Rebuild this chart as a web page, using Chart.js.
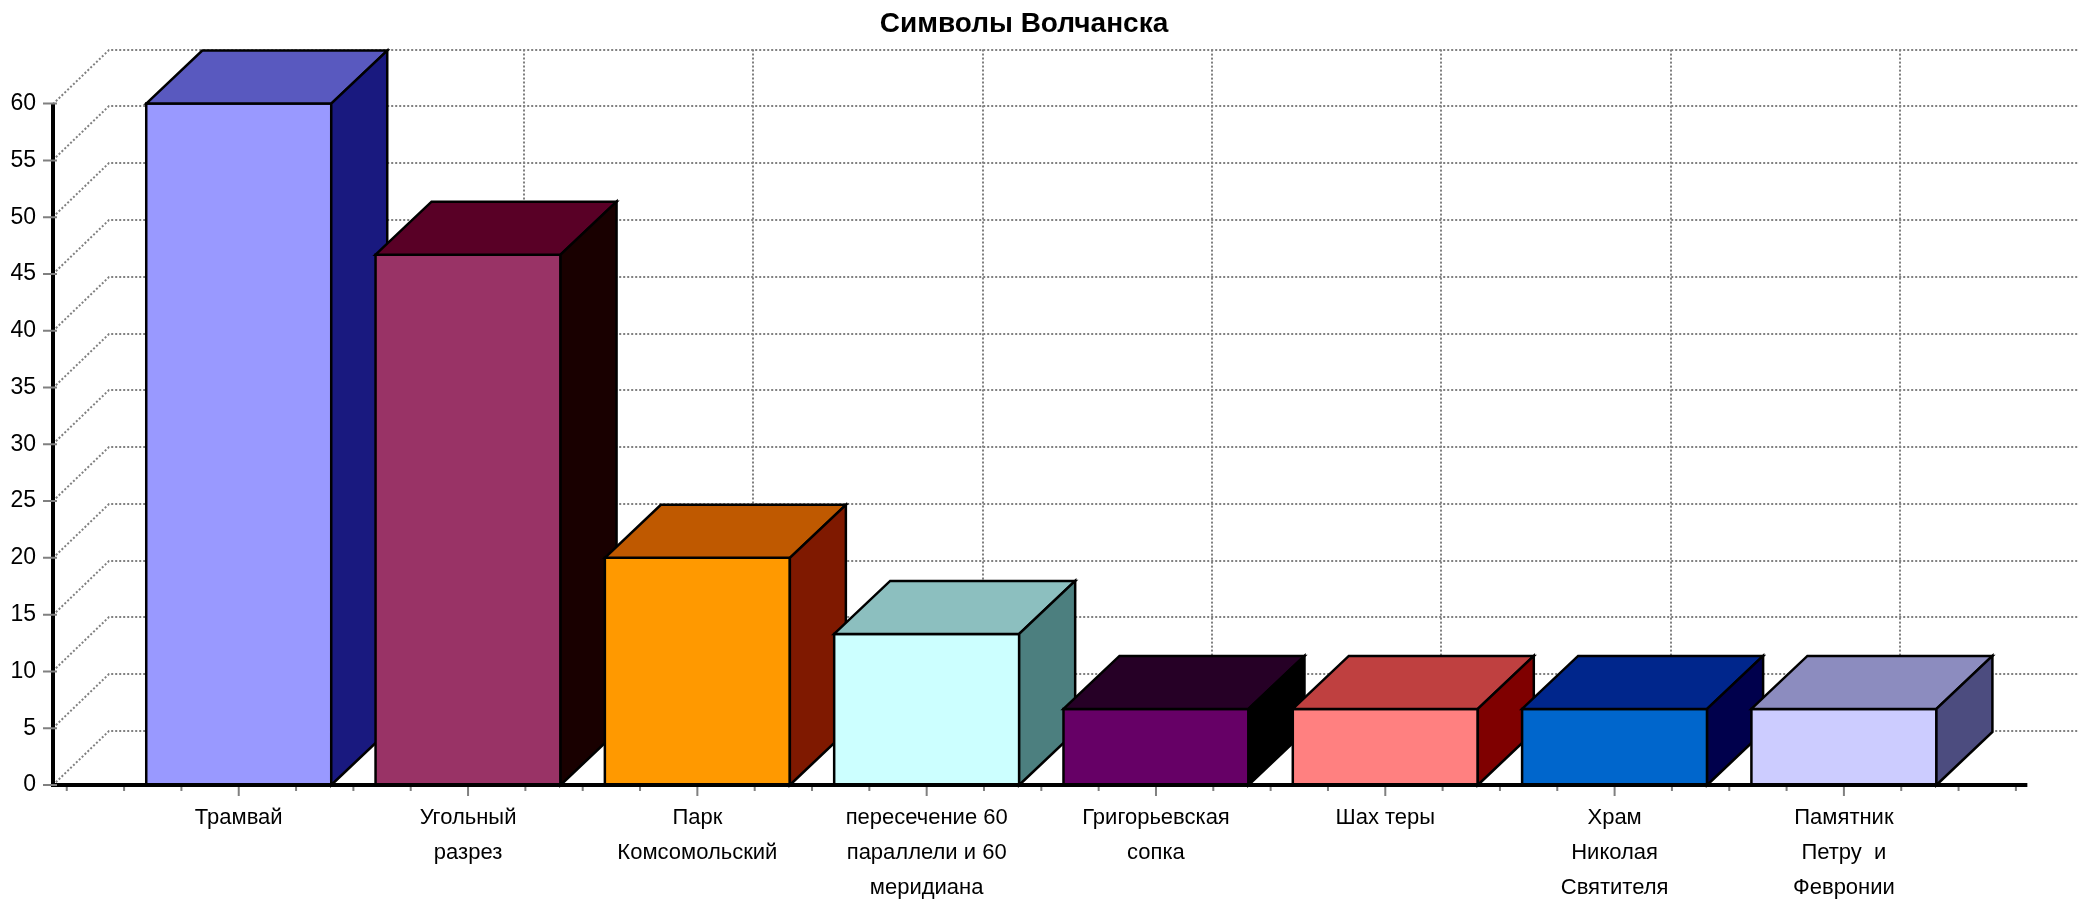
<!DOCTYPE html>
<html>
<head>
<meta charset="utf-8">
<title>Символы Волчанска</title>
<script src="https://cdn.jsdelivr.net/npm/chart.js@4.4.1/dist/chart.umd.min.js"></script>
<style>
  html, body { margin: 0; padding: 0; background: #fff; }
  #wrap { width: 2079px; height: 899px; }
</style>
</head>
<body>
<div id="wrap"><canvas id="chart"></canvas></div>
<script>
// data (values look like shares of 15 answers, in %)
const categories = [
    ['Трамвай'],
    ['Угольный', 'разрез'],
    ['Парк', 'Комсомольский'],
    ['пересечение 60', 'параллели и 60', 'меридиана'],
    ['Григорьевская', 'сопка'],
    ['Шах теры'],
    ['Храм', 'Николая', 'Святителя'],
    ['Памятник', 'Петру  и', 'Февронии']
];
const values = [60, 46.7, 20, 13.3, 6.7, 6.7, 6.7, 6.7];
const yTicks = [0, 5, 10, 15, 20, 25, 30, 35, 40, 45, 50, 55, 60];
const frontColors = ['#9999FF', '#993366', '#FF9900', '#CCFFFF', '#660066', '#FF8080', '#0066CC', '#CCCCFF'];

// x axis range in category units (floor line stops a bit before the right end)
const X_MIN = -0.81;
const X_MAX = 7.89;
const FLOOR_END = 7.8;

// 3d look
const DEPTH_X = 56;
const DEPTH_Y = -54;
const BAR_DEPTH_Y = -53;
const GRID_COLOR = '#808080';

// x tick marks every quarter of a category, major ones on the categories
const xTickValues = [];
for (let i = -3; i <= categories.length * 4 - 1; i++) xTickValues.push(i / 4);

function shade(hex, amt) {
    const n = parseInt(hex.slice(1), 16);
    const c = [n >> 16, (n >> 8) & 255, n & 255].map(v => Math.max(0, Math.min(255, v + amt)));
    return 'rgb(' + c.join(',') + ')';
}

function poly(ctx, pts, fill) {
    ctx.beginPath();
    ctx.moveTo(pts[0][0], pts[0][1]);
    for (let i = 1; i < pts.length; i++) ctx.lineTo(pts[i][0], pts[i][1]);
    ctx.closePath();
    ctx.fillStyle = fill;
    ctx.fill();
    ctx.stroke();
}

const depthPlugin = {
    id: 'depth',
    beforeDatasetsDraw(chart) {
        const { ctx, chartArea, scales: { x, y } } = chart;
        const left = chartArea.left;
        ctx.save();
        ctx.strokeStyle = GRID_COLOR;
        ctx.lineWidth = 2;
        ctx.setLineDash([2, 2]);
        // side wall + back wall lines
        yTicks.forEach(v => {
            const py = Math.round(y.getPixelForValue(v));
            ctx.beginPath();
            ctx.moveTo(left, py);
            ctx.lineTo(left + DEPTH_X, py + DEPTH_Y);
            ctx.lineTo(chart.width, py + DEPTH_Y);
            ctx.stroke();
        });
        const top = y.getPixelForValue(yTicks[yTicks.length - 1]) + DEPTH_Y;
        const floor = y.getPixelForValue(0) + DEPTH_Y;
        categories.forEach((c, i) => {
            const px = Math.round(x.getPixelForValue(i) + DEPTH_X);
            ctx.beginPath();
            ctx.moveTo(px, top);
            ctx.lineTo(px, floor);
            ctx.stroke();
        });
        ctx.restore();
    },
    afterDatasetsDraw(chart) {
        const { ctx, chartArea, scales: { x, y } } = chart;
        const meta = chart.getDatasetMeta(0);
        ctx.save();
        ctx.strokeStyle = '#000';
        ctx.lineWidth = 2.5;
        ctx.lineJoin = 'miter';
        meta.data.forEach((bar, i) => {
            const p = bar.getProps(['x', 'y', 'base', 'width'], true);
            const l = p.x - p.width / 2;
            const r = p.x + p.width / 2;
            const col = frontColors[i];
            poly(ctx, [[l, p.y], [r, p.y], [r, p.base], [l, p.base]], col);
            poly(ctx, [[l, p.y], [l + DEPTH_X, p.y + BAR_DEPTH_Y], [r + DEPTH_X, p.y + BAR_DEPTH_Y], [r, p.y]], shade(col, -64));
            poly(ctx, [[r, p.y], [r + DEPTH_X, p.y + BAR_DEPTH_Y], [r + DEPTH_X, p.base + BAR_DEPTH_Y], [r, p.base]], shade(col, -128));
        });

        // axis lines
        const y0 = y.getPixelForValue(0);
        const yTop = y.getPixelForValue(yTicks[yTicks.length - 1]);
        const ax = chartArea.left;
        ctx.lineWidth = 4;
        ctx.beginPath();
        ctx.moveTo(ax, yTop);
        ctx.lineTo(ax, y0 + 2);
        ctx.moveTo(ax - 2, y0);
        ctx.lineTo(x.getPixelForValue(FLOOR_END), y0);
        ctx.stroke();

        // tick marks
        ctx.strokeStyle = GRID_COLOR;
        ctx.lineWidth = 2;
        ctx.beginPath();
        yTicks.forEach(v => {
            const py = y.getPixelForValue(v);
            ctx.moveTo(ax - 10, py);
            ctx.lineTo(ax + 4, py);
        });
        xTickValues.forEach(v => {
            const px = x.getPixelForValue(v);
            const len = Number.isInteger(v) ? 11 : 6;
            ctx.moveTo(px, y0 + 2);
            ctx.lineTo(px, y0 + len);
        });
        ctx.stroke();
        ctx.restore();
    }
};

const ctx = document.getElementById('chart').getContext('2d');
new Chart(ctx, {
    type: 'bar',
    data: {
        datasets: [{
            data: values.map((v, i) => ({ x: i, y: v })),
            backgroundColor: 'rgba(0,0,0,0)',
            borderWidth: 0,
            barThickness: 185
        }]
    },
    options: {
        responsive: true,
        maintainAspectRatio: false,
        animation: false,
        layout: { padding: { left: 0, right: 31, top: 0, bottom: 0 } },
        plugins: {
            legend: { display: false },
            tooltip: { enabled: false },
            title: {
                display: true,
                text: 'Символы Волчанска',
                color: '#000',
                font: { family: 'Liberation Sans, Arial, sans-serif', size: 28, weight: 'bold' },
                padding: { top: 7, bottom: 63 }
            }
        },
        scales: {
            x: {
                type: 'linear',
                offset: false,
                min: X_MIN,
                max: X_MAX,
                afterBuildTicks: axis => { axis.ticks = xTickValues.map(v => ({ value: v })); },
                afterFit: axis => { axis.height = 114; },
                grid: { display: false, drawTicks: false, offset: false },
                border: { display: false },
                ticks: {
                    autoSkip: false,
                    maxRotation: 0,
                    minRotation: 0,
                    padding: 15,
                    color: '#000',
                    font: { family: 'Liberation Sans, Arial, sans-serif', size: 22, lineHeight: 1.6 },
                    callback: v => Number.isInteger(v) ? categories[v] : ''
                }
            },
            y: {
                min: 0,
                max: 60,
                afterBuildTicks: axis => { axis.ticks = yTicks.map(v => ({ value: v })); },
                afterFit: axis => { axis.width = 53; },
                grid: { display: false, drawTicks: true, tickLength: 9 },
                border: { display: false },
                ticks: {
                    padding: 8,
                    color: '#000',
                    font: { family: 'Liberation Sans, Arial, sans-serif', size: 23 }
                }
            }
        }
    },
    plugins: [depthPlugin]
});
</script>
</body>
</html>
